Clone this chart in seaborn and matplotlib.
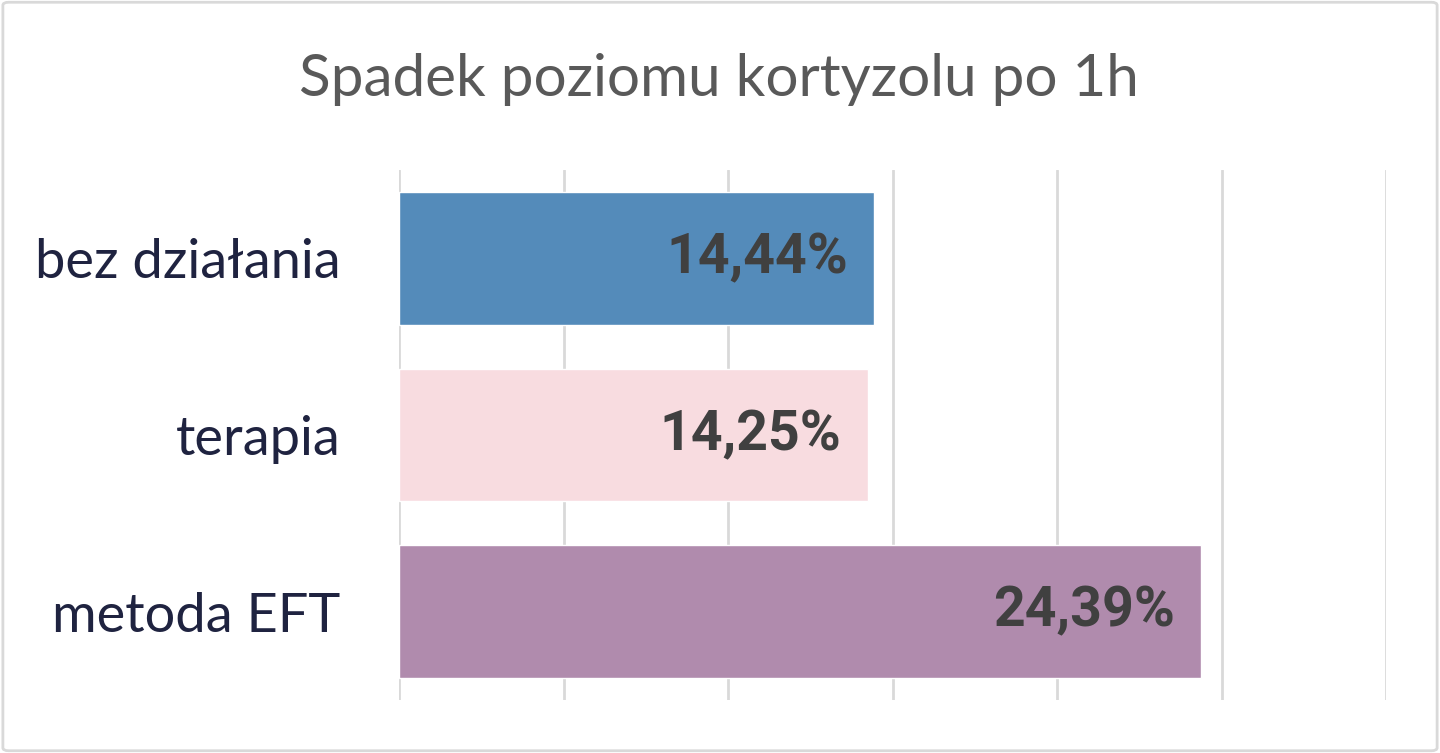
import matplotlib
matplotlib.use("Agg")
import matplotlib.pyplot as plt
import seaborn as sns
import pandas as pd
from matplotlib.patches import FancyBboxPatch

# dane
kategorie = ["bez działania", "terapia", "metoda EFT"]
wartosci = [14.44, 14.25, 24.39]
etykiety = ["14,44%", "14,25%", "24,39%"]
kolory = ["#548BBA", "#F8DCE0", "#B08BAD"]

df = pd.DataFrame({"kategoria": kategorie, "wartosc": wartosci})

sns.set_theme(style="white")
plt.rcParams["font.family"] = ["Lato", "DejaVu Sans"]

fig = plt.figure(figsize=(14.4, 7.53), dpi=100)
ax = fig.add_axes([399 / 1440, 1 - 700 / 753, (1386 - 399) / 1440, 530 / 753])

sns.barplot(data=df, x="wartosc", y="kategoria", hue="kategoria", palette=kolory,
            legend=False, width=0.75, saturation=1, ax=ax)

ax.set_xlim(0, 30)
ax.set_ylim(2.5, -0.5)
ax.set_xticks(range(0, 31, 5))
ax.xaxis.grid(True, color="#D9D9D9", linewidth=2)
ax.set_axisbelow(True)
ax.tick_params(axis="x", labelbottom=False, length=0)
ax.tick_params(axis="y", length=0, pad=42, labelsize=39, labelcolor="#1F2340")
for s in ax.spines.values():
    s.set_visible(False)
ax.set_xlabel("")
ax.set_ylabel("")

# etykiety wartości wewnątrz słupków
for i, (v, t) in enumerate(zip(wartosci, etykiety)):
    ax.text(v - 0.8, i, t, ha="right", va="center", fontsize=40, fontweight="bold",
            color="#404040", family=["Roboto", "DejaVu Sans"])

fig.text(0.499, 1 - 80 / 753, "Spadek poziomu kortyzolu po 1h", ha="center", va="center",
         fontsize=42, color="#595959")

# ramka wokół wykresu
fig.patches.append(FancyBboxPatch((0.002, 0.003), 0.996, 0.994, boxstyle="round,pad=0,rounding_size=0.004",
                                  transform=fig.transFigure, fill=False, edgecolor="#D9D9D9", linewidth=2))

fig.savefig("out.png", dpi=100)
